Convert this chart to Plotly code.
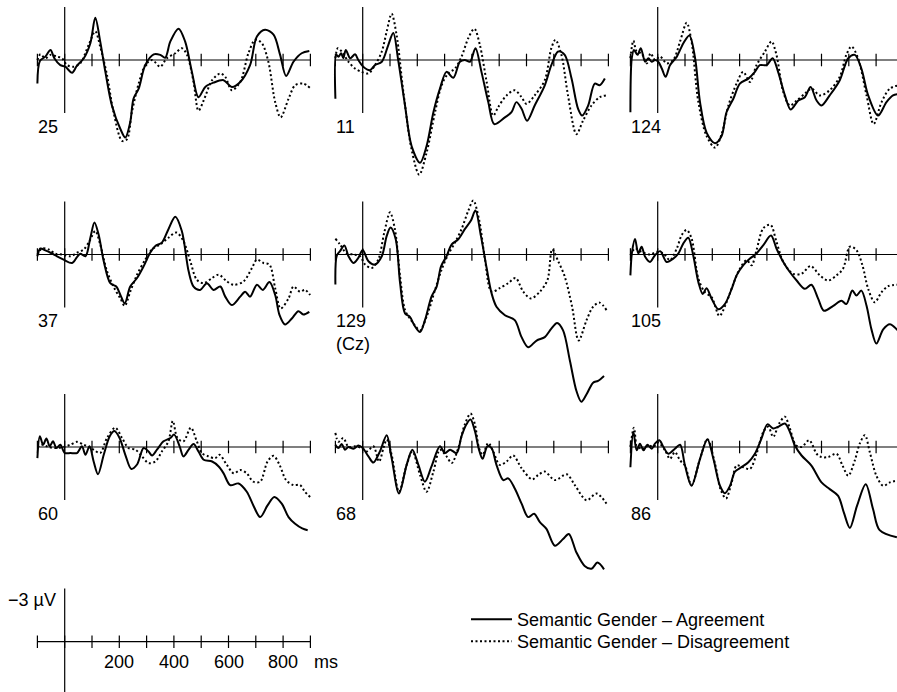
import plotly.graph_objects as go

# ---------------- data (time in ms, amplitude in microvolts; negative plotted up) ----------------
TICKS_MS = [-100, 0, 100, 200, 300, 400, 500, 600, 700, 800, 900]
SCALE_TICK_LABELS = [200, 400, 600, 800]
UV_EXTENT = [-3, 3]
ELECTRODES = ["25", "11", "124", "37", "129<br>(Cz)", "105", "60", "68", "86"]
SERIES_NAMES = ["Semantic Gender – Agreement", "Semantic Gender – Disagreement"]

P25_AGR = [(-100, 1.33), (-91, 0.06), (-71, -0.19), (-52, -0.57), (-38, -0.1), (-16, 0.29), (2, 0.38), (27, 0.72),
           (45, 0.32), (70, -0.1), (94, -0.95), (112, -2.38), (130, -1.05), (149, 0.67), (173, 2.57), (204, 3.9),
           (222, 4.38), (240, 3.52), (252, 2.19), (271, 1.62), (295, 0.29), (326, -0.32), (350, -0.29), (368, -0.13),
           (387, -1.05), (417, -1.77), (441, -1.05), (466, 0.67), (490, 2.1), (515, 1.52), (545, 1.28), (582, 1.14),
           (612, 1.52), (643, 1.24), (679, 0.29), (704, -1.33), (734, -1.71), (765, -1.43), (789, -0.29), (811, 0.9),
           (838, 0.1), (868, -0.38), (896, -0.51)]
P25_DIS = [(-100, 0), (-89, -0.32), (-71, -0.1), (-52, -0.29), (-28, -0.19), (-10, -0.1), (9, 0.29), (33, 0.38),
           (57, 0.19), (88, -0.86), (112, -1.62), (130, -0.76), (155, 0.86), (179, 2.95), (210, 4.57), (228, 4.48),
           (246, 2.95), (271, 1.33), (295, 0.29), (320, 0), (350, 0.38), (374, -0.1), (405, -0.38), (429, -0.67),
           (448, -0.29), (472, 1.24), (490, 2.86), (509, 2.29), (540, 1.14), (570, 0.76), (588, 0.95), (612, 1.71),
           (643, 1.24), (673, -0.38), (698, -1.14), (722, -0.95), (746, 0.1), (771, 2.38), (791, 3.24), (820, 2.19),
           (844, 1.43), (874, 1.33), (899, 1.58)]

P11_AGR = [(-100, 2.19), (-97, -0.29), (-89, -0.19), (-79, -0.38), (-71, -0.1), (-62, -0.57), (-46, -0.1), (-28, -0.32),
           (-16, 0), (2, 0.38), (27, 0.57), (45, 0.29), (70, 0.1), (94, -0.86), (112, -1.52), (130, 0), (155, 2.57),
           (179, 4.86), (210, 5.81), (234, 4.86), (259, 2.95), (283, 1.62), (307, 0.67), (332, 1.0), (356, 0.1),
           (374, 0), (393, 0.1), (413, -0.67), (435, 0.67), (460, 2.38), (482, 3.62), (521, 3.24), (545, 2.95),
           (563, 2.38), (582, 2.76), (602, 3.43), (630, 2.57), (667, 1.43), (691, 0.29), (716, -0.48), (740, -0.29),
           (765, 1.05), (789, 2.76), (804, 3.14), (826, 2.57), (850, 1.33), (868, 1.43), (887, 1.05)]
P11_DIS = [(-100, -0.1), (-91, -0.67), (-77, -0.48), (-52, 0.1), (-28, 0.48), (-4, 0.67), (21, 0.76), (45, 0.29),
           (70, -0.48), (88, -1.62), (106, -2.61), (124, -1.43), (149, 1.81), (179, 5.05), (207, 6.48), (234, 5.24),
           (265, 2.95), (289, 1.43), (313, 0.76), (338, 0.48), (362, -0.19), (387, -1.24), (409, -1.77), (429, -0.86),
           (454, 1.24), (478, 3.14), (496, 2.67), (527, 2.0), (557, 1.71), (582, 2.1), (600, 2.48), (630, 2.0),
           (667, 1.14), (691, -0.67), (706, -1.14), (728, -0.29), (752, 2.0), (783, 4.19), (807, 3.43), (838, 2.57),
           (868, 2.1), (893, 2.0)]

P124_AGR = [(-100, 2.95), (-95, -0.1), (-87, -0.57), (-74, -0.29), (-62, -0.67), (-46, 0.1), (-34, -0.1), (-22, 0.1),
            (-10, 0), (2, 0.1), (15, 0.48), (29, 0.95), (45, 0.29), (70, -0.19), (94, -0.95), (116, -1.39), (137, -0.1),
            (155, 2.38), (179, 4.1), (210, 4.7), (234, 4.29), (252, 2.95), (277, 2.19), (301, 1.33), (332, 1.05),
            (356, 0.67), (374, 0.29), (399, 0.29), (421, -0.1), (441, 0.67), (466, 2.0), (487, 2.8), (515, 2.29),
            (539, 2.1), (560, 1.52), (582, 2.29), (600, 2.57), (630, 2.0), (667, 1.14), (698, -0.1), (722, -0.29),
            (746, 0.48), (771, 2.0), (807, 3.14), (838, 2.38), (862, 2.0), (890, 1.9)]
P124_DIS = [(-100, -0.1), (-89, -1.09), (-77, -0.48), (-59, -0.38), (-40, 0.19), (-26, -0.38), (-10, 0), (9, -0.19),
            (33, 0.19), (57, 0), (82, -1.05), (106, -2.1), (124, -1.05), (149, 2.38), (179, 4.29), (210, 4.95),
            (234, 4.19), (259, 2.57), (289, 1.33), (313, 0.67), (338, 1.24), (362, 0.29), (393, -0.48), (417, -1.05),
            (435, -0.29), (460, 1.81), (484, 2.57), (509, 2.29), (539, 1.9), (563, 1.62), (594, 2.0), (630, 1.71),
            (667, 0.95), (691, -0.29), (710, -0.76), (734, -0.1), (765, 2.0), (791, 3.62), (820, 2.38), (850, 1.62),
            (890, 1.4)]

P37_AGR = [(-100, 0.1), (-89, -0.34), (-71, -0.23), (-52, -0.1), (-28, 0.1), (-4, 0.29), (27, 0.48), (45, 0.15),
           (57, -0.04), (76, 0.1), (94, -0.95), (109, -1.81), (124, -1.14), (143, 0.38), (167, 1.62), (189, 1.81),
           (204, 2.29), (220, 2.76), (240, 1.81), (265, 1.33), (289, 0.67), (313, -0.1), (332, -0.48), (356, -0.67),
           (380, -1.43), (405, -2.13), (429, -1.33), (454, 0.95), (472, 1.81), (496, 2.0), (521, 1.62), (545, 2.0),
           (570, 1.81), (588, 2.38), (612, 2.86), (643, 2.38), (661, 2.1), (679, 2.38), (704, 1.71), (726, 2.0),
           (750, 1.56), (771, 2.29), (787, 3.43), (807, 3.96), (832, 3.62), (856, 3.2), (874, 3.39), (896, 3.24)]
P37_DIS = [(-100, 0), (-83, -0.34), (-59, -0.29), (-34, -0.04), (-10, 0), (21, 0.1), (45, -0.1), (70, -0.29),
           (91, -0.76), (112, -1.33), (130, -0.57), (155, 0.95), (185, 2.0), (204, 2.48), (220, 2.9), (240, 2.1),
           (265, 1.14), (295, 0.29), (320, -0.29), (350, -0.57), (380, -0.95), (409, -1.24), (435, -0.76), (460, 0.38),
           (484, 1.43), (509, 1.62), (540, 1.33), (564, 1.14), (594, 1.52), (619, 1.71), (655, 1.52), (686, 0.76),
           (704, 0.29), (728, 0.48), (750, 0.57), (771, 1.9), (791, 3.05), (820, 2.48), (838, 1.81), (862, 2.1),
           (880, 2.0), (899, 2.29)]

P129_AGR = [(-100, 1.7), (-95, 0.06), (-83, -0.19), (-67, -0.51), (-52, 0.1), (-34, 0.48), (-16, 0.19), (0, -0.25),
            (21, 0.38), (45, 0.57), (70, 0.1), (88, -1.05), (102, -1.52), (121, -0.86), (137, 1.62), (155, 3.33),
            (173, 3.52), (189, 4.0), (210, 4.38), (228, 3.71), (252, 2.38), (271, 1.81), (287, 0.67), (307, 0.1),
            (326, -0.57), (350, -0.86), (374, -1.43), (396, -1.9), (413, -2.48), (433, -1.05), (454, 0.76), (472, 2.19),
            (490, 2.95), (521, 3.43), (557, 3.71), (582, 4.67), (606, 5.24), (637, 4.86), (667, 4.67), (691, 4.19),
            (712, 3.87), (734, 4.29), (759, 6.0), (783, 7.71), (801, 8.32), (820, 7.9), (844, 7.24), (862, 7.14),
            (884, 6.86)]
P129_DIS = [(-100, -0.9), (-83, -0.57), (-59, -0.06), (-34, 0), (-10, 0.1), (9, 0.57), (33, 0.76), (57, 0.29),
            (79, -1.24), (100, -2.38), (118, -1.43), (137, 1.24), (155, 3.14), (177, 3.71), (191, 4.0), (210, 4.29),
            (234, 3.52), (265, 2.0), (289, 0.86), (313, 0), (338, -0.67), (362, -1.43), (387, -2.48), (405, -3.05),
            (426, -2.0), (448, 0.29), (472, 2.1), (502, 1.9), (533, 1.62), (560, 1.33), (588, 2.1), (616, 2.48),
            (649, 2.1), (677, 1.43), (694, -0.29), (716, 0.38), (740, 1.24), (767, 2.95), (791, 4.86), (820, 3.71),
            (844, 2.95), (868, 2.72), (893, 3.14)]

P105_AGR = [(-100, 1.18), (-94, -0.15), (-83, -0.88), (-71, -0.06), (-59, -0.44), (-46, 0.13), (-28, 0.42), (-10, 0.04),
            (9, -0.19), (33, 0.42), (57, 0.23), (76, -0.06), (94, -0.63), (112, -0.95), (130, 0.04), (149, 1.56),
            (165, 2.23), (179, 1.9), (198, 2.51), (222, 3.09), (246, 2.8), (271, 1.94), (289, 1.18), (313, 0.61),
            (338, 0.23), (362, -0.06), (387, -0.53), (415, -1.07), (435, -0.34), (460, 0.42), (484, 0.99), (509, 1.47),
            (539, 1.94), (563, 1.71), (588, 2.51), (609, 3.18), (643, 2.9), (673, 2.61), (691, 2.8), (713, 2.04),
            (728, 2.32), (746, 2.04), (765, 2.9), (783, 4.23), (801, 5.03), (826, 4.23), (850, 3.94), (880, 4.3)]
P105_DIS = [(-100, 0.04), (-83, -0.34), (-59, -0.15), (-28, 0), (-4, -0.15), (21, -0.06), (45, 0.32), (70, -0.34),
            (88, -1.1), (106, -1.39), (124, -0.91), (149, 1.37), (173, 2.13), (198, 2.42), (226, 3.47), (252, 2.7),
            (277, 1.66), (301, 0.8), (326, 0.32), (344, 0.61), (362, -0.25), (387, -1.49), (413, -1.68), (435, -0.72),
            (460, 0.42), (496, 1.09), (527, 1.09), (560, 0.65), (594, 1.18), (624, 1.47), (655, 1.18), (679, 0.8),
            (704, -0.44), (728, -0.25), (750, 0.61), (771, 1.94), (795, 2.7), (820, 2.13), (844, 1.79), (880, 1.71)]

P60_AGR = [(-100, 0.63), (-91, -0.61), (-79, -0.13), (-67, -0.48), (-55, -0.04), (-43, -0.32), (-30, 0.06), (-16, -0.13),
           (0, 0.34), (21, 0.34), (45, 0.34), (63, -0.04), (76, 0.44), (91, -0.04), (106, 0.82), (122, 1.54), (143, 0.44),
           (165, -0.61), (182, -0.9), (201, -0.51), (222, 0.44), (244, 1.24), (265, 0.99), (289, 0.06), (307, 0.25),
           (320, 0.48), (338, 0.15), (362, -0.32), (387, -0.51), (401, -0.7), (421, -0.04), (435, 0.53), (454, 0.15),
           (472, -0.17), (490, 0.25), (509, 0.72), (540, 0.82), (564, 1.1), (582, 1.49), (606, 2.15), (637, 2.06),
           (667, 2.53), (691, 3.3), (716, 3.96), (743, 3.3), (768, 2.82), (795, 3.2), (820, 3.96), (844, 4.34),
           (870, 4.6), (890, 4.7)]
P60_DIS = [(-100, 0), (-83, -0.13), (-59, 0), (-34, 0.06), (-4, 0), (21, -0.13), (45, -0.29), (70, -0.13), (88, 0),
           (106, 0.15), (130, 0.34), (155, -0.51), (185, -1.09), (210, -0.51), (234, 0.06), (259, 0.15), (283, 0.53),
           (307, 0.91), (332, 0.82), (356, 0.25), (380, -0.32), (396, -1.47), (413, -0.51), (435, -0.32), (462, -1.09),
           (484, -0.32), (502, 0.34), (527, 0.53), (551, 0.63), (567, 0.44), (594, 1.01), (619, 1.49), (643, 1.3),
           (667, 1.49), (691, 1.96), (716, 1.96), (743, 0.82), (765, 0.5), (787, 1.01), (811, 1.87), (838, 2.15),
           (862, 2.15), (880, 2.53), (899, 2.82)]

P68_AGR = [(-100, -0.13), (-89, 0.06), (-77, -0.17), (-65, 0.15), (-52, 0), (-34, 0.1), (-16, -0.08), (0, 0.06),
           (21, 0.53), (39, 0.88), (63, 0.25), (88, -0.67), (106, 0.63), (133, 2.63), (161, 1.01), (182, 0.15),
           (204, 1.01), (228, 1.96), (252, 1.1), (283, -0.04), (301, 0.34), (320, 0.15), (344, 0.34), (362, -0.61),
           (380, -1.28), (395, -1.56), (411, -0.9), (426, 0.15), (439, 0.67), (457, -0.04), (472, 0.06), (490, 1.01),
           (515, 1.87), (533, 1.77), (557, 2.34), (582, 3.2), (606, 3.96), (628, 3.77), (649, 4.25), (673, 4.63),
           (704, 5.58), (734, 5.2), (755, 4.91), (783, 5.96), (813, 6.72), (838, 6.88), (860, 6.53), (884, 6.91)]
P68_DIS = [(-100, -0.8), (-89, -0.3), (-71, -0.51), (-52, 0), (-28, -0.04), (-4, 0.06), (15, 0.25), (39, -0.04),
           (60, 0.82), (76, 0.06), (88, -0.42), (106, 0.44), (133, 2.53), (161, 1.01), (182, 0.25), (210, 1.58),
           (234, 2.53), (259, 1.39), (283, 0.15), (307, 0.53), (326, 0.91), (350, 0.06), (374, -1.28), (395, -1.89),
           (411, -1.28), (426, 0.06), (439, 0.44), (460, -0.23), (478, 0.25), (502, 1.01), (527, 0.82), (551, 0.48),
           (582, 1.2), (621, 1.83), (643, 1.58), (667, 1.39), (704, 1.87), (747, 1.54), (777, 2.15), (820, 3.01),
           (857, 2.63), (893, 3.2)]

P86_AGR = [(-100, 1.14), (-89, -0.86), (-77, 0.19), (-65, -0.19), (-52, 0.19), (-38, -0.13), (-22, 0.1), (-10, -0.19),
           (6, -0.38), (21, 0), (39, 0.38), (63, 0.1), (82, -0.13), (100, 1.05), (124, 2.19), (155, 0.67), (182, -0.44),
           (204, 0.67), (228, 2.19), (246, 2.61), (265, 2.19), (283, 1.39), (307, 1.14), (332, 0.86), (356, 0.38),
           (380, -0.48), (402, -1.28), (423, -1.05), (441, -1.14), (466, -1.33), (484, -0.86), (502, -0.1), (527, 0.48),
           (563, 1.05), (600, 2.0), (630, 2.38), (661, 2.76), (682, 3.71), (704, 4.57), (730, 3.33), (762, 2.1),
           (789, 3.52), (813, 4.7), (876, 5.1)]
P86_DIS = [(-100, 0), (-87, -1.09), (-74, 0.19), (-62, 0), (-50, 0.1), (-34, -0.1), (-16, 0), (2, -0.25), (27, 0.19),
           (45, 0.67), (63, 0.29), (82, 0.76), (100, 1.05), (124, 2.15), (155, 0.67), (182, -0.44), (210, 0.95),
           (230, 2.38), (250, 2.91), (271, 2.0), (289, 1.05), (313, 1.14), (338, 1.24), (362, 0.38), (387, -0.86),
           (405, -1.14), (423, -0.57), (445, -1.33), (466, -1.71), (484, -1.05), (506, -0.1), (527, 0), (555, -0.38),
           (582, 0.38), (600, 0.57), (624, 0.57), (655, 0.38), (677, 1.05), (698, 1.62), (722, 0.76), (740, -0.19),
           (759, -0.67), (777, 0.29), (801, 1.62), (826, 2.19), (850, 2.0), (876, 1.9)]

PANEL_DATA = [(P25_AGR, P25_DIS), (P11_AGR, P11_DIS), (P124_AGR, P124_DIS),
              (P37_AGR, P37_DIS), (P129_AGR, P129_DIS), (P105_AGR, P105_DIS),
              (P60_AGR, P60_DIS), (P68_AGR, P68_DIS), (P86_AGR, P86_DIS)]

# ---------------- layout / style ----------------
W, H = 897, 692
PX_PER_MS = 0.273
PX_PER_UV = 17.7
COL_X0 = [64.7, 362.7, 657.7]      # pixel x of t = 0 in each column
ROW_Y0 = [60.0, 254.5, 447.0]      # pixel y of the baseline in each row
SCALE_X0, SCALE_Y0 = 64.7, 641.7
FONT = dict(family="Liberation Sans, Arial, Helvetica, sans-serif", size=18, color="black")
INK = "black"

fig = go.Figure()
layout_axes = {}
annotations = []


def add_axes(k, x0, y0):
    xa = "xaxis" if k == 1 else f"xaxis{k}"
    ya = "yaxis" if k == 1 else f"yaxis{k}"
    layout_axes[xa] = dict(domain=[0, 1], range=[-x0 / PX_PER_MS, (W - x0) / PX_PER_MS],
                           visible=False, fixedrange=True, anchor="y" if k == 1 else f"y{k}")
    layout_axes[ya] = dict(domain=[0, 1], range=[(H - y0) / PX_PER_UV, -y0 / PX_PER_UV],
                           visible=False, fixedrange=True, anchor="x" if k == 1 else f"x{k}")
    return ("x" if k == 1 else f"x{k}"), ("y" if k == 1 else f"y{k}")


def draw_frame(xr, yr):
    fig.add_trace(go.Scatter(x=[TICKS_MS[0], TICKS_MS[-1]], y=[0, 0], mode="lines",
                             line=dict(color=INK, width=1.2), xaxis=xr, yaxis=yr,
                             showlegend=False, hoverinfo="skip"))
    fig.add_trace(go.Scatter(x=[0, 0], y=UV_EXTENT, mode="lines",
                             line=dict(color=INK, width=1.2), xaxis=xr, yaxis=yr,
                             showlegend=False, hoverinfo="skip"))
    fig.add_trace(go.Scatter(x=TICKS_MS, y=[0] * len(TICKS_MS), mode="markers",
                             marker=dict(symbol="line-ns", size=9, line=dict(color=INK, width=1.2)),
                             xaxis=xr, yaxis=yr, showlegend=False, hoverinfo="skip"))


for i, (label, (agr, dis)) in enumerate(zip(ELECTRODES, PANEL_DATA)):
    r, c = divmod(i, 3)
    k = i + 1
    xr, yr = add_axes(k, COL_X0[c], ROW_Y0[r])
    draw_frame(xr, yr)
    fig.add_trace(go.Scatter(x=[p[0] for p in dis], y=[p[1] for p in dis], mode="lines",
                             line=dict(color=INK, width=2, dash="2px,2.5px", shape="spline", smoothing=0.9),
                             name=SERIES_NAMES[1], legend="legend2", showlegend=(i == 0),
                             xaxis=xr, yaxis=yr, hoverinfo="skip"))
    fig.add_trace(go.Scatter(x=[p[0] for p in agr], y=[p[1] for p in agr], mode="lines",
                             line=dict(color=INK, width=2, shape="spline", smoothing=0.9),
                             name=SERIES_NAMES[0], legend="legend", showlegend=(i == 0),
                             xaxis=xr, yaxis=yr, hoverinfo="skip"))
    annotations.append(dict(text=label, xref=xr, yref=yr, x=-106, y=3.1, xanchor="left", yanchor="top",
                            showarrow=False, align="left", font=FONT))

# scale-bar panel
xs, ys = add_axes(10, SCALE_X0, SCALE_Y0)
draw_frame(xs, ys)
for t in SCALE_TICK_LABELS:
    annotations.append(dict(text=str(t), xref=xs, yref=ys, x=t, y=1.13, xanchor="center", yanchor="middle",
                            showarrow=False, font=FONT))
annotations.append(dict(text="ms", xref=xs, yref=ys, x=905, y=1.13, xanchor="left", yanchor="middle",
                        showarrow=False, font=FONT))
annotations.append(dict(text="−3 µV", xref=xs, yref=ys, x=-26, y=-2.35, xanchor="right", yanchor="middle",
                        showarrow=False, font=FONT))

legend_common = dict(xanchor="left", yanchor="top", bgcolor="rgba(0,0,0,0)", font=FONT,
                     itemwidth=41, borderwidth=0)
fig.update_layout(
    width=W, height=H, margin=dict(l=0, r=0, t=0, b=0),
    paper_bgcolor="white", plot_bgcolor="rgba(0,0,0,0)",
    font=FONT, annotations=annotations, hovermode=False,
    legend=dict(x=466 / W, y=1 - 601 / H, **legend_common),
    legend2=dict(x=466 / W, y=1 - 623 / H, **legend_common),
    **layout_axes,
)
fig.write_html("out.html", config={"displayModeBar": False, "staticPlot": True},
               post_script="document.body.style.margin='0';")
